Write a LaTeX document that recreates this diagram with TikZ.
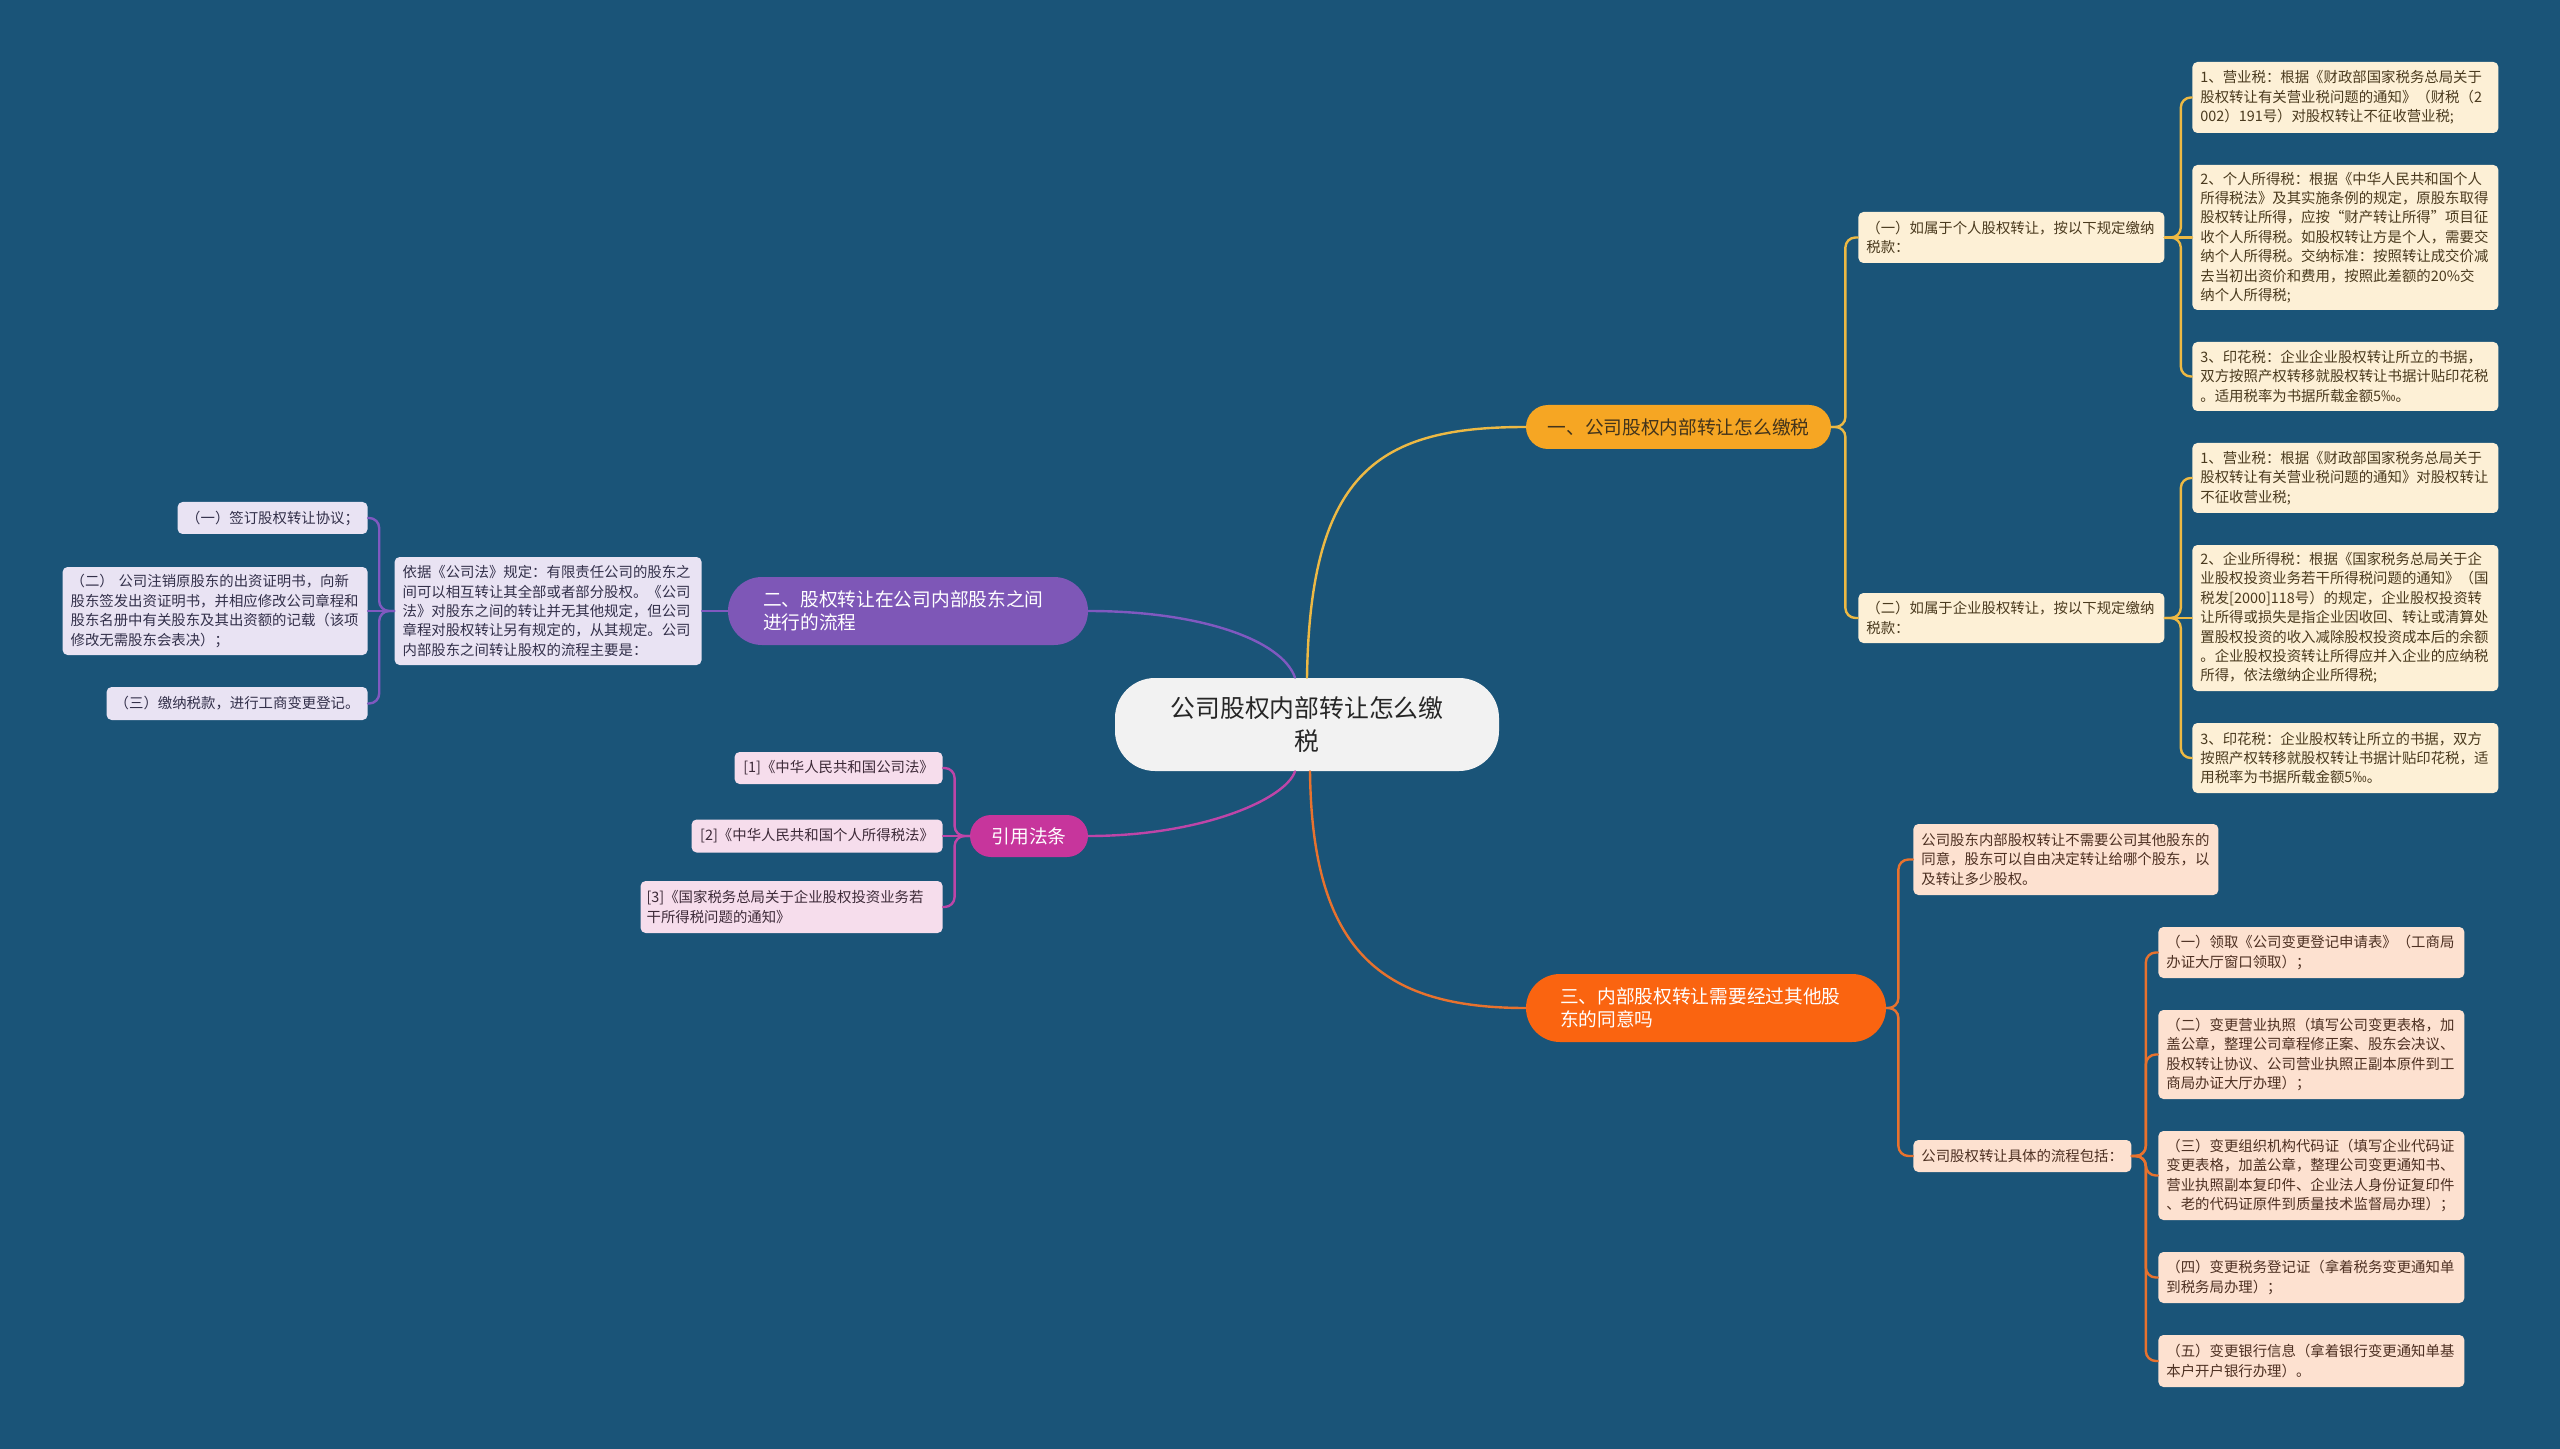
\documentclass[tikz,border=0pt]{standalone}
\usepackage{fontspec}
\setmainfont{Noto Sans CJK SC}
\definecolor{bg}{HTML}{1A5478}
\definecolor{yfill}{HTML}{FDF0D6}
\definecolor{ytext}{HTML}{4A3A1E}
\definecolor{yline}{HTML}{EDB944}
\definecolor{ybranch}{HTML}{F6A623}
\definecolor{pfill}{HTML}{E9E3F3}
\definecolor{ptext}{HTML}{33304A}
\definecolor{pline}{HTML}{8059C0}
\definecolor{pbranch}{HTML}{7E57B7}
\definecolor{mfill}{HTML}{F6DDEC}
\definecolor{mtext}{HTML}{3D2A38}
\definecolor{mline}{HTML}{BE45A8}
\definecolor{mbranch}{HTML}{C7359C}
\definecolor{ofill}{HTML}{FDE1D0}
\definecolor{otext}{HTML}{4D3022}
\definecolor{oline}{HTML}{E8722E}
\definecolor{obranch}{HTML}{FA6410}
\definecolor{rootfill}{HTML}{F2F2F2}
\tikzset{
  card/.style={rounded corners=2.5pt, inner xsep=4pt, inner ysep=2pt, align=left,
    font=\fontsize{7.2}{9.7}\selectfont},
  ycard/.style={card, fill=yfill, text=ytext},
  pcard/.style={card, fill=pfill, text=ptext},
  mcard/.style={card, fill=mfill, text=mtext},
  ocard/.style={card, fill=ofill, text=otext},
  branch/.style={inner ysep=0pt, font=\fontsize{9.35}{11.7}\selectfont},
  conn/.style={line width=1.2pt, line cap=round},
  yl/.style={conn, draw=yline},
  pl/.style={conn, draw=pline},
  ml/.style={conn, draw=mline},
  ol/.style={conn, draw=oline},
  ybr/.style={yl, rounded corners=5pt},
  pbr/.style={pl, rounded corners=5pt},
  mbr/.style={ml, rounded corners=5pt},
  obr/.style={ol, rounded corners=5pt}
}
\begin{document}
\begin{tikzpicture}[x=0.5pt, y=-0.5pt]
\path[use as bounding box, fill=bg] (0,0) rectangle (2560,1449);

% root
\node[fill=rootfill, text=black!85, rounded corners=20pt, minimum width=192pt, minimum height=46.5pt,
  text width=140pt, align=center, font=\fontsize{12.4}{16.7}\selectfont] (root) at (1307,724.5)
  {公司股权内部转让怎么缴\\税};

% branches
\node[branch, fill=ybranch, text=ytext!90!black, rounded corners=11pt, minimum width=152.5pt, minimum height=22pt]
  (b1) at (1678.5,427) {一、公司股权内部转让怎么缴税};
\node[branch, fill=pbranch, text=white, rounded corners=17pt, minimum height=34pt, inner xsep=17.5pt,
  text width=145pt, align=left] (b2) at (908,611) {二、股权转让在公司内部股东之间\\进行的流程};
\node[branch, fill=mbranch, text=white, rounded corners=10.5pt, minimum width=59pt, minimum height=21pt]
  (b3) at (1029,836) {引用法条};
\node[branch, fill=obranch, text=white, rounded corners=17pt, minimum height=34pt, inner xsep=17pt,
  text width=146pt, align=left] (b4) at (1706,1008) {三、内部股权转让需要经过其他股\\东的同意吗};

% branch 1 children
\node[ycard, anchor=west, text width=145pt, minimum height=25.5pt] (s1) at (1858,237.5)
  {（一）如属于个人股权转让，按以下规定缴纳\\税款：};
\node[ycard, anchor=west, text width=145pt, minimum height=25pt] (s2) at (1858,618)
  {（二）如属于企业股权转让，按以下规定缴纳\\税款：};

\node[ycard, anchor=west, text width=145pt, minimum height=35.5pt] (la) at (2192,97.5)
  {1、营业税：根据《财政部国家税务总局关于\\股权转让有关营业税问题的通知》（财税（2\\002）191号）对股权转让不征收营业税;};
\node[ycard, anchor=west, text width=145pt, minimum height=72.5pt] (lb) at (2192,237.5)
  {2、个人所得税：根据《中华人民共和国个人\\所得税法》及其实施条例的规定，原股东取得\\股权转让所得，应按“财产转让所得”项目征\\收个人所得税。如股权转让方是个人，需要交\\纳个人所得税。交纳标准：按照转让成交价减\\去当初出资价和费用，按照此差额的20\%交\\纳个人所得税;};
\node[ycard, anchor=west, text width=145pt, minimum height=34.5pt] (lc) at (2192,376.5)
  {3、印花税：企业企业股权转让所立的书据，\\双方按照产权转移就股权转让书据计贴印花税\\。适用税率为书据所载金额5‰。};

\node[ycard, anchor=west, text width=145pt, minimum height=35pt] (ld) at (2192,478)
  {1、营业税：根据《财政部国家税务总局关于\\股权转让有关营业税问题的通知》对股权转让\\不征收营业税;};
\node[ycard, anchor=west, text width=145pt, minimum height=73pt] (le) at (2192,618)
  {2、企业所得税：根据《国家税务总局关于企\\业股权投资业务若干所得税问题的通知》（国\\税发[2000]118号）的规定，企业股权投资转\\让所得或损失是指企业因收回、转让或清算处\\置股权投资的收入减除股权投资成本后的余额\\。企业股权投资转让所得应并入企业的应纳税\\所得，依法缴纳企业所得税;};
\node[ycard, anchor=west, text width=145pt, minimum height=35pt] (lf) at (2192,758)
  {3、印花税：企业股权转让所立的书据，双方\\按照产权转移就股权转让书据计贴印花税，适\\用税率为书据所载金额5‰。};

% branch 4 children
\node[ocard, anchor=west, text width=144.5pt, minimum height=35.5pt] (og) at (1913,859.5)
  {公司股东内部股权转让不需要公司其他股东的\\同意，股东可以自由决定转让给哪个股东，以\\及转让多少股权。};
\node[ocard, anchor=west, text width=101pt, minimum height=16pt] (oh) at (1913,1156)
  {公司股权转让具体的流程包括：};

\node[ocard, anchor=west, text width=145pt, minimum height=25.5pt] (i1) at (2158,952.5)
  {（一）领取《公司变更登记申请表》（工商局\\办证大厅窗口领取）；};
\node[ocard, anchor=west, text width=145pt, minimum height=44.5pt] (i2) at (2158,1054.5)
  {（二）变更营业执照（填写公司变更表格，加\\盖公章，整理公司章程修正案、股东会决议、\\股权转让协议、公司营业执照正副本原件到工\\商局办证大厅办理）；};
\node[ocard, anchor=west, text width=145pt, minimum height=44.5pt] (i3) at (2158,1175.5)
  {（三）变更组织机构代码证（填写企业代码证\\变更表格，加盖公章，整理公司变更通知书、\\营业执照副本复印件、企业法人身份证复印件\\、老的代码证原件到质量技术监督局办理）；};
\node[ocard, anchor=west, text width=145pt, minimum height=25.5pt] (i4) at (2158,1277.5)
  {（四）变更税务登记证（拿着税务变更通知单\\到税务局办理）；};
\node[ocard, anchor=west, text width=145pt, minimum height=26pt] (i5) at (2158,1361)
  {（五）变更银行信息（拿着银行变更通知单基\\本户开户银行办理）。};

% branch 2 children
\node[pcard, anchor=east, text width=145.5pt, minimum height=54pt] (pj) at (702,611)
  {依据《公司法》规定：有限责任公司的股东之\\间可以相互转让其全部或者部分股权。《公司\\法》对股东之间的转让并无其他规定，但公司\\章程对股权转让另有规定的，从其规定。公司\\内部股东之间转让股权的流程主要是：};
\node[pcard, anchor=east, minimum width=95pt, minimum height=16pt] (k1) at (368,518)
  {（一）签订股权转让协议；};
\node[pcard, anchor=east, text width=144.5pt, minimum height=44pt] (k2) at (368,611)
  {（二） 公司注销原股东的出资证明书，向新\\股东签发出资证明书，并相应修改公司章程和\\股东名册中有关股东及其出资额的记载（该项\\修改无需股东会表决）；};
\node[pcard, anchor=east, minimum width=130.5pt, minimum height=16.5pt] (k3) at (368,703.5)
  {（三）缴纳税款，进行工商变更登记。};

% branch 3 children
\node[mcard, anchor=east, minimum width=104pt, minimum height=16pt] (r1) at (943,768)
  {[1]《中华人民共和国公司法》};
\node[mcard, anchor=east, minimum width=125.5pt, minimum height=16.5pt, inner xsep=2pt] (r2) at (943,836)
  {[2]《中华人民共和国个人所得税法》};
\node[mcard, anchor=east, text width=145pt, minimum height=26pt, inner xsep=3pt] (r3) at (943,907)
  {[3]《国家税务总局关于企业股权投资业务若\\干所得税问题的通知》};

% root connectors
\draw[yl] (root.north) .. controls (1310,470) and (1380,427) .. (b1.west);
\draw[pl] (b2.east) .. controls (1200,611) and (1282,640) .. ([xshift=-6pt]root.north);
\draw[ml] (b3.east) .. controls (1200,836) and (1285,800) .. ([xshift=-6pt]root.south);
\draw[ol] ([xshift=1.5pt]root.south) .. controls (1312,950) and (1380,1008) .. (b4.west);

% branch 1 brackets
\draw[ybr] (b1.east) -- ++(7pt,0) |- (s1.west);
\draw[ybr] (b1.east) -- ++(7pt,0) |- (s2.west);
\draw[ybr] (s1.east) -- ++(8pt,0) |- (la.west);
\draw[yl] (s1.east) -- (lb.west);
\draw[ybr] (s1.east) -- ++(8pt,0) |- (lc.west);
\draw[ybr] (s2.east) -- ++(8pt,0) |- (ld.west);
\draw[yl] (s2.east) -- (le.west);
\draw[ybr] (s2.east) -- ++(8pt,0) |- (lf.west);

% branch 4 brackets
\draw[obr] (b4.east) -- ++(6pt,0) |- (og.west);
\draw[obr] (b4.east) -- ++(6pt,0) |- (oh.west);
\foreach \n in {i1,i2,i3,i4,i5}
  \draw[obr] (oh.east) -- ++(7pt,0) |- (\n.west);

% branch 2 brackets
\draw[pl] (b2.west) -- (pj.east);
\draw[pbr] (pj.west) -- ++(-7.5pt,0) |- (k1.east);
\draw[pl] (pj.west) -- (k2.east);
\draw[pbr] (pj.west) -- ++(-7.5pt,0) |- (k3.east);

% branch 3 brackets
\draw[mbr] (b3.west) -- ++(-7.5pt,0) |- (r1.east);
\draw[ml] (b3.west) -- (r2.east);
\draw[mbr] (b3.west) -- ++(-7.5pt,0) |- (r3.east);
\end{tikzpicture}
\end{document}
